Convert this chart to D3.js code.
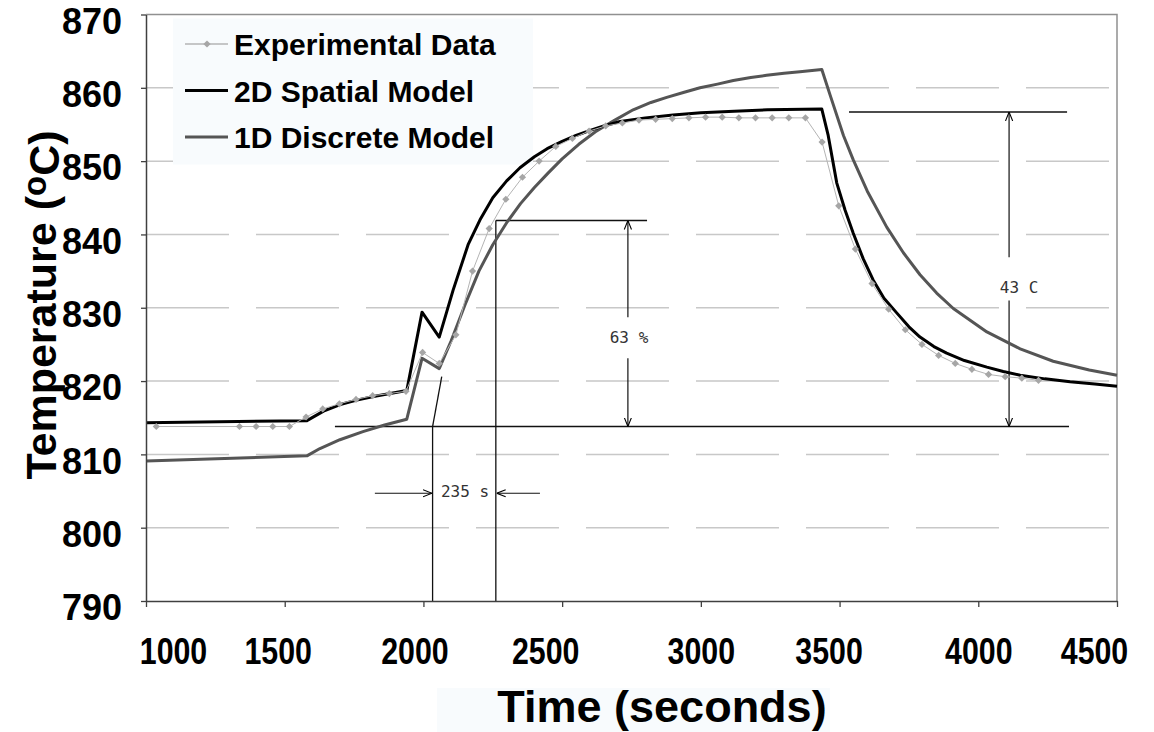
<!DOCTYPE html>
<html>
<head>
<meta charset="utf-8">
<script src="https://cdn.jsdelivr.net/npm/d3@7"></script>
<style>
  body { margin: 0; background: #fff; }
  .tick text { font-family: "Liberation Sans", Arial, sans-serif; font-weight: bold; fill: #000; }
  .note { font-family: "DejaVu Sans Mono", monospace; font-size: 16px; fill: #333; }
</style>
</head>
<body>
<div class="chart"></div>
<script>
// Data
var expTime = [1037, 1337, 1397, 1457, 1517, 1577, 1637, 1697, 1757, 1817, 1877, 1937, 1997, 2057, 2117,
  2177, 2237, 2297, 2357, 2417, 2477, 2537, 2597, 2657, 2717, 2777, 2837, 2897, 2957, 3017,
  3077, 3137, 3197, 3257, 3317, 3377, 3437, 3497, 3557, 3617, 3677, 3737, 3797, 3857, 3917,
  3977, 4037, 4097, 4157, 4217];
var expTemp = [813.8, 813.8, 813.8, 813.8, 813.8, 815.1, 816.2, 816.9, 817.5, 818.0, 818.3, 818.6, 823.9, 822.4, 826.3,
  835.0, 840.8, 844.8, 847.8, 850.0, 852.0, 853.1, 854.1, 854.8, 855.2, 855.6, 855.7, 855.8, 855.9, 856.0,
  856.0, 855.9, 855.9, 855.9, 855.9, 855.9, 852.6, 843.9, 838.0, 833.3, 829.8, 827.0, 825.0, 823.5, 822.4,
  821.6, 820.9, 820.6, 820.4, 820.1];

var spatialTime = [1000, 1580, 1640, 1700, 1760, 1820, 1880, 1940, 1995, 2057, 2107, 2161, 2204, 2250, 2300,
  2348, 2400, 2446, 2500, 2550, 2601, 2650, 2709, 2800, 2900, 3000, 3120, 3240, 3436, 3459,
  3490, 3520, 3549, 3585, 3621, 3660, 3706, 3750, 3790, 3840, 3886, 3950, 4031, 4090, 4151,
  4240, 4331, 4420, 4500];
var spatialTemp = [814.3, 814.6, 815.9, 816.8, 817.4, 817.9, 818.3, 818.7, 829.4, 826.0, 832.4, 838.6, 842.0, 845.0, 847.3,
  849.1, 850.6, 851.7, 852.7, 853.5, 854.2, 854.8, 855.4, 855.9, 856.3, 856.6, 856.8, 857.0, 857.1, 853.5,
  847.0, 843.3, 840.2, 836.7, 833.8, 831.3, 829.3, 827.4, 826.0, 824.7, 823.8, 822.8, 821.9, 821.3, 820.8,
  820.3, 819.9, 819.6, 819.3];

var discreteTime = [1000, 1580, 1627, 1699, 1782, 1860, 1940, 1995, 2057, 2100, 2150, 2200, 2250, 2300, 2350,
  2400, 2450, 2500, 2560, 2620, 2690, 2756, 2820, 2877, 2940, 2997, 3060, 3117, 3180, 3237,
  3300, 3357, 3436, 3466, 3514, 3549, 3600, 3670, 3730, 3790, 3850, 3910, 4031, 4151, 4270,
  4400, 4500];
var discreteTemp = [809.1, 809.8, 810.8, 812.0, 813.1, 814.0, 814.8, 823.1, 821.7, 825.5, 830.4, 835.0, 838.6, 841.6, 844.2,
  846.4, 848.4, 850.3, 852.3, 854.0, 855.6, 857.0, 858.0, 858.7, 859.4, 860.0, 860.5, 861.0, 861.4, 861.7,
  862.0, 862.2, 862.5, 859.0, 853.5, 850.2, 845.9, 841.0, 837.5, 834.5, 832.0, 829.9, 826.7, 824.4, 822.7,
  821.5, 820.8];

var xTicks = [1000, 1500, 2000, 2500, 3000, 3500, 4000, 4500];
var yTicks = [790, 800, 810, 820, 830, 840, 850, 860, 870];
var legendLabels = ["Experimental Data", "2D Spatial Model", "1D Discrete Model"];

// annotation geometry, in data units (time, temperature)
var noteLines = [
  [1681, 813.8, 4327, 813.8],
  [3534, 856.7, 4320, 856.7],
  [2261, 841.9, 2806, 841.9],
  [2033, 813.8, 2033, 790],
  [2261, 841.9, 2261, 790],
  [2033, 813.8, 2066, 820.6]
];
var noteArrows = [
  [4111, 836.9, 4111, 856.7],
  [4111, 831.0, 4111, 813.8],
  [2737, 828.7, 2737, 841.9],
  [2737, 823.1, 2737, 813.8],
  [1825, 804.7, 2031, 804.7],
  [2420, 804.7, 2264, 804.7]
];
var noteTexts = [
  { t: 4147, T: 832.8, label: "43 C" },
  { t: 2741, T: 826.0, label: "63 %" },
  { t: 2150, T: 805.0, label: "235 s" }
];

// Set up the chart
var svgWidth = 1154;
var svgHeight = 732;
var margin = { top: 14.5, right: 37, bottom: 131, left: 146 };
var width = svgWidth - margin.left - margin.right;
var height = svgHeight - margin.top - margin.bottom;

// the original's x labels sit a little off their ticks
var xLabelNudge = [27, -7, -9, -17, 0, -11, 0, -23];

var root = d3.select(".chart").append("svg")
  .attr("width", svgWidth)
  .attr("height", svgHeight)
  .style("display", "block");

var defs = root.append("defs");
defs.append("marker")
  .attr("id", "head")
  .attr("viewBox", "0 0 10 10")
  .attr("refX", 10).attr("refY", 5)
  .attr("markerWidth", 9).attr("markerHeight", 9)
  .attr("markerUnits", "userSpaceOnUse")
  .attr("orient", "auto")
  .append("path")
  .attr("d", "M0,1 L10,5 L0,9")
  .attr("fill", "none")
  .attr("stroke", "#000")
  .attr("stroke-width", 1.2);

var chart = root.append("g")
  .attr("transform", "translate(" + margin.left + "," + margin.top + ")");

var x = d3.scaleLinear().domain([1000, 4500]).range([0, width]);
var y = d3.scaleLinear().domain([790, 870]).range([height, 0]);

// gridlines (broken into long dashes like the original)
chart.append("g")
  .selectAll("line")
  .data(yTicks.filter(function(d) { return d > 790 && d < 870; }))
  .enter().append("line")
  .attr("x1", 0).attr("x2", width)
  .attr("y1", function(d) { return y(d); })
  .attr("y2", function(d) { return y(d); })
  .attr("stroke", "#c8c8c8")
  .attr("stroke-width", 1.5)
  .attr("stroke-dasharray", "83,27");

// plot border top/right
chart.append("path")
  .attr("d", "M0,0 H" + width + " V" + height)
  .attr("fill", "none")
  .attr("stroke", "#909090")
  .attr("stroke-width", 1.5);

// legend box (faint background)
chart.append("rect")
  .attr("x", 27).attr("y", 4)
  .attr("width", 360).attr("height", 146)
  .attr("fill", "#f8fbfd");

// annotations
chart.append("g").selectAll("line")
  .data(noteLines).enter().append("line")
  .attr("x1", function(d) { return x(d[0]); })
  .attr("y1", function(d) { return y(d[1]); })
  .attr("x2", function(d) { return x(d[2]); })
  .attr("y2", function(d) { return y(d[3]); })
  .attr("stroke", "#111")
  .attr("stroke-width", 1.3);

chart.append("g").selectAll("line")
  .data(noteArrows).enter().append("line")
  .attr("x1", function(d) { return x(d[0]); })
  .attr("y1", function(d) { return y(d[1]); })
  .attr("x2", function(d) { return x(d[2]); })
  .attr("y2", function(d) { return y(d[3]); })
  .attr("stroke", "#111")
  .attr("stroke-width", 1.2)
  .attr("marker-end", "url(#head)");

chart.append("g").selectAll("text")
  .data(noteTexts).enter().append("text")
  .attr("class", "note")
  .attr("x", function(d) { return x(d.t); })
  .attr("y", function(d) { return y(d.T); })
  .attr("dy", "0.35em")
  .attr("text-anchor", "middle")
  .text(function(d) { return d.label; });

// series
var line = d3.line()
  .x(function(d) { return x(d[0]); })
  .y(function(d) { return y(d[1]); });

var discrete = d3.zip(discreteTime, discreteTemp);
var spatial = d3.zip(spatialTime, spatialTemp);
var experimental = d3.zip(expTime, expTemp);

chart.append("path")
  .attr("d", line(discrete))
  .attr("fill", "none")
  .attr("stroke", "#555")
  .attr("stroke-width", 3)
  .attr("stroke-linejoin", "round");

chart.append("path")
  .attr("d", line(spatial))
  .attr("fill", "none")
  .attr("stroke", "#000")
  .attr("stroke-width", 3)
  .attr("stroke-linejoin", "round");

chart.append("path")
  .attr("d", line(experimental))
  .attr("fill", "none")
  .attr("stroke", "#b4b4b4")
  .attr("stroke-width", 1);

var diamond = d3.symbol().type(d3.symbolSquare).size(26);
chart.append("g").selectAll("path")
  .data(experimental).enter().append("path")
  .attr("d", diamond)
  .attr("transform", function(d) { return "translate(" + x(d[0]) + "," + y(d[1]) + ") rotate(45)"; })
  .attr("fill", "#a6a6a6");

// axes
var leftAxis = d3.axisLeft(y).tickValues(yTicks).tickSize(5).tickSizeOuter(0).tickPadding(19);
var bottomAxis = d3.axisBottom(x).tickValues(xTicks).tickFormat(d3.format("d"))
  .tickSize(6).tickSizeOuter(0).tickPadding(30);

var yAxis = chart.append("g").call(leftAxis);
yAxis.selectAll("text").style("font-size", "36px").attr("dy", "0.52em");

var xAxis = chart.append("g")
  .attr("transform", "translate(0," + height + ")")
  .call(bottomAxis);
// condensed labels
xAxis.selectAll(".tick text")
  .style("font-size", "37px")
  .attr("dy", "0.72em")
  .attr("transform", function(d, i) { return "translate(" + xLabelNudge[i] + ",0) scale(0.82,1)"; });

[yAxis, xAxis].forEach(function(ax) {
  ax.select(".domain").attr("stroke", "#404040").attr("stroke-width", 1.5);
  ax.selectAll(".tick line").attr("stroke", "#404040").attr("stroke-width", 1.3);
});

// axis titles
var yTitle = root.append("text")
  .attr("transform", "translate(56,305) rotate(-90)")
  .attr("text-anchor", "middle")
  .style("font-family", "Liberation Sans, Arial, sans-serif")
  .style("font-weight", "bold")
  .style("font-size", "43px");
yTitle.append("tspan").text("Temperature (");
yTitle.append("tspan").attr("dy", "-0.3em").style("font-size", "33px").text("o");
yTitle.append("tspan").attr("dy", "0.3em").text("C)");

root.append("rect")
  .attr("x", 437).attr("y", 688)
  .attr("width", 393).attr("height", 44)
  .attr("fill", "#f8fbfd");
root.append("text")
  .attr("x", 662)
  .attr("y", 722)
  .attr("text-anchor", "middle")
  .style("font-family", "Liberation Sans, Arial, sans-serif")
  .style("font-weight", "bold")
  .style("font-size", "45px")
  .text("Time (seconds)");

// legend
var legend = root.append("g");
var legendColors = ["#b4b4b4", "#000", "#555"];
legendLabels.forEach(function(label, i) {
  var base = 55 + i * 46.5;
  legend.append("line")
    .attr("x1", 185).attr("x2", 228)
    .attr("y1", base - 11).attr("y2", base - 11)
    .attr("stroke", legendColors[i])
    .attr("stroke-width", i === 0 ? 1.5 : 3);
  if (i === 0) {
    legend.append("path")
      .attr("d", diamond)
      .attr("transform", "translate(207," + (base - 11) + ") rotate(45)")
      .attr("fill", "#a6a6a6");
  }
  legend.append("text")
    .attr("x", 234).attr("y", base)
    .style("font-family", "Liberation Sans, Arial, sans-serif")
    .style("font-weight", "bold")
    .style("font-size", "30px")
    .text(label);
});
</script>
</body>
</html>
